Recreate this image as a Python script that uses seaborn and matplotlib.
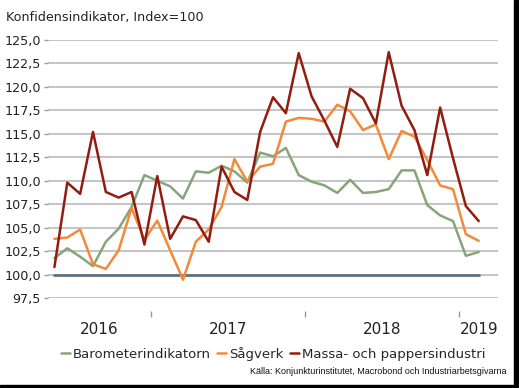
import numpy as np
import pandas as pd
import matplotlib
matplotlib.use("Agg")
import matplotlib.pyplot as plt
import seaborn as sns

# Manadsdata maj 2016 - feb 2019
months = pd.period_range("2016-05", "2019-02", freq="M").astype(str).tolist()

barometer = [101.75, 102.8, 101.9, 100.9, 103.5, 104.9, 107.2, 110.6, 110.0, 109.4,
             108.1, 111.0, 110.85, 111.6, 111.0, 109.8, 113.0, 112.6, 113.5, 110.6,
             109.9, 109.5, 108.7, 110.1, 108.7, 108.8, 109.1, 111.1, 111.1, 107.4,
             106.3, 105.7, 102.0, 102.4]
sagverk = [103.8, 103.95, 104.8, 101.1, 100.6, 102.6, 107.1, 103.7, 105.75, 102.6,
           99.45, 103.5, 104.8, 107.2, 112.3, 109.9, 111.5, 111.8, 116.3, 116.7,
           116.6, 116.3, 118.1, 117.4, 115.4, 116.0, 112.3, 115.3, 114.7, 112.2,
           109.5, 109.1, 104.3, 103.6]
massa = [100.8, 109.8, 108.6, 115.2, 108.8, 108.2, 108.8, 103.2, 110.5, 103.8,
         106.2, 105.8, 103.5, 111.5, 108.8, 107.95, 115.2, 118.9, 117.2, 123.6,
         119.0, 116.4, 113.6, 119.8, 118.8, 116.1, 123.7, 118.0, 115.4, 110.6,
         117.8, 112.4, 107.3, 105.7]
index_level = [100.0] * len(months)

years = ["2016", "2017", "2018", "2019"]
series_names = ["Barometerindikatorn", "Sågverk", "Massa- och pappersindustri"]
colors = ["#86a57a", "#f2893b", "#931c10"]

df = pd.DataFrame({"t": np.arange(len(months)),
                   series_names[0]: barometer,
                   series_names[1]: sagverk,
                   series_names[2]: massa,
                   "Index": index_level})

sns.set_style("white")
plt.rcParams["font.family"] = ["DejaVu Sans"]

fig = plt.figure(figsize=(5.19, 3.88), dpi=100)
ax = fig.add_axes([48 / 519, 1 - 298 / 388, 450 / 519, 258 / 388])

# Gridlinjer
for v in np.arange(97.5, 125.1, 2.5):
    ax.axhline(v, color="#c6c6c6", lw=1.5, zorder=0)

sns.lineplot(data=df, x="t", y="Index", color="#5f7282", lw=2, ax=ax, legend=False)
for name, c in zip(series_names, colors):
    sns.lineplot(data=df, x="t", y=name, color=c, lw=1.8, ax=ax, label=name)

ax.set_xlim(-0.5, 34.5)
ax.set_ylim(97.5, 125)
ax.set_xlabel("")
ax.set_ylabel("")
for s in ax.spines.values():
    s.set_visible(False)

yt = np.arange(97.5, 125.1, 2.5)
ax.set_yticks(yt)
ax.set_yticklabels([("%.1f" % v).replace(".", ",") for v in yt], fontsize=9.2, color="#222222")
ax.tick_params(axis="y", length=3, width=1, color="#9a9a9a", pad=2, left=True)

# Arsgranser och arsetiketter
ax.spines["bottom"].set_position(("outward", 9))
ax.set_xticks([7.5, 19.5, 31.5])
ax.set_xticklabels(["", "", ""])
ax.tick_params(axis="x", which="major", length=4, width=1, color="#9a9a9a", bottom=True)
ax.set_xticks([3.5, 13.5, 25.5, 33], minor=True)
ax.set_xticklabels(years, minor=True, fontsize=11, color="#222222")
ax.tick_params(axis="x", which="minor", length=0, pad=8)

ax.legend(loc="upper center", bbox_to_anchor=(0.5, -0.17), ncol=3, frameon=False,
          fontsize=9.5, handlelength=0.7, handletextpad=0.2, columnspacing=0.5,
          borderaxespad=0)

fig.text(6 / 519, 1 - 17 / 388, "Konfidensindikator, Index=100", fontsize=9.2,
         va="center", ha="left", color="#222222")
fig.text(507 / 519, 1 - 372 / 388,
         "Källa: Konjunkturinstitutet, Macrobond och Industriarbetsgivarna",
         fontsize=6.5, ha="right", va="center", family=["Liberation Sans"], color="#111111")

# Ram nere och till hoger
fig.patches.append(plt.Rectangle((514 / 519, 0), 5 / 519, 1, transform=fig.transFigure,
                                 color="black", zorder=10))
fig.patches.append(plt.Rectangle((0, 0), 1, 3 / 388, transform=fig.transFigure,
                                 color="black", zorder=10))

fig.savefig("out.png", dpi=100)
